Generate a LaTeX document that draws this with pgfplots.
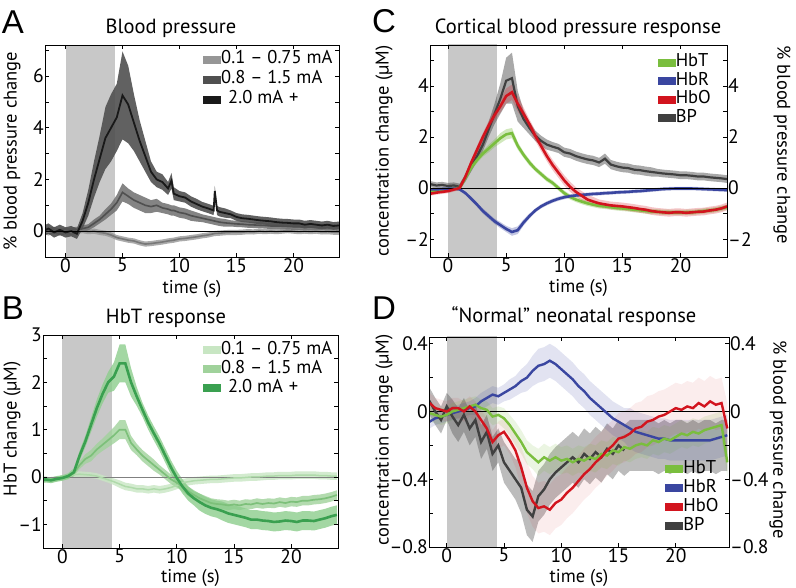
\documentclass[border=0pt]{standalone}
\usepackage{fontspec}
\setmainfont{PT Sans}
\newfontfamily\letterfont{Liberation Sans}
\usepackage{pgfplots}
\pgfplotsset{compat=1.18}
\usepackage{pgfplotstable}
\usepgfplotslibrary{fillbetween}

\definecolor{stim}{RGB}{200,200,200}
\definecolor{gA1}{RGB}{150,150,150}
\definecolor{gA1l}{RGB}{120,120,120}
\definecolor{gA2}{RGB}{110,110,110}
\definecolor{gA2l}{RGB}{80,80,80}
\definecolor{gA3}{RGB}{80,80,80}
\definecolor{gA3l}{RGB}{25,25,25}
\definecolor{gB1}{RGB}{200,230,195}
\definecolor{gB1l}{RGB}{175,218,170}
\definecolor{gB2}{RGB}{160,210,155}
\definecolor{gB2l}{RGB}{125,192,122}
\definecolor{gB3}{RGB}{140,205,140}
\definecolor{gB3l}{RGB}{58,160,80}
\definecolor{cT}{RGB}{122,190,62}
\definecolor{cR}{RGB}{58,70,160}
\definecolor{cO}{RGB}{210,20,30}
\definecolor{cB}{RGB}{64,64,64}

\pgfplotstableread{
t a1 e1 a2 e2 a3 e3
-2 0.02 .12 0.05 .12 0.0 .2
-1.5 -0.05 .12 0.0 .12 0.1 .2
-1 0.03 .12 0.05 .12 -0.05 .2
-0.5 -0.02 .12 -0.05 .12 0.05 .2
0 0.0 .12 0.0 .12 -0.05 .2
0.5 -0.05 .1 0.02 .12 0.0 .2
1 0.0 .1 0.05 .12 -0.1 .2
1.5 0.02 .1 0.1 .12 0.4 .3
2 -0.02 .1 0.15 .12 1.1 .5
2.5 0.0 .1 0.3 .15 2.0 .7
3 -0.05 .1 0.45 .15 2.8 .9
3.5 -0.08 .1 0.65 .2 3.6 1.2
4 -0.15 .1 0.85 .22 4.0 1.3
4.5 -0.25 .1 1.1 .3 4.4 1.3
5 -0.3 .1 1.5 .35 5.25 1.7
5.5 -0.35 .1 1.35 .3 4.9 1.5
6 -0.38 .1 1.2 .3 4.2 1.1
6.5 -0.45 .1 1.1 .3 3.5 .8
7 -0.5 .1 1.0 .3 2.9 .6
7.5 -0.48 .1 0.95 .25 2.3 .4
8 -0.45 .1 1.0 .25 2.0 .3
8.5 -0.42 .1 0.9 .2 1.9 .3
9 -0.38 .1 0.85 .2 1.65 .25
9.3 -0.36 .1 0.8 .2 1.95 .3
9.5 -0.35 .1 0.8 .2 1.45 .25
10 -0.3 .1 0.72 .2 1.35 .2
10.5 -0.28 .1 0.68 .2 1.3 .2
11 -0.25 .1 0.6 .2 1.15 .2
11.5 -0.22 .1 0.55 .18 1.05 .2
12 -0.18 .1 0.5 .15 0.95 .18
12.5 -0.15 .1 0.45 .15 0.88 .18
13 -0.1 .1 0.4 .15 0.8 .18
13.1 -0.09 .1 0.39 .15 1.55 .2
13.3 -0.085 .1 0.37 .15 0.8 .18
13.5 -0.08 .1 0.35 .15 0.75 .18
14 -0.06 .1 0.32 .15 0.7 .18
14.5 -0.05 .1 0.3 .12 0.65 .15
15 -0.05 .1 0.28 .12 0.55 .15
15.5 -0.04 .1 0.27 .12 0.5 .15
16 -0.02 .1 0.25 .12 0.48 .15
16.5 -0.03 .1 0.24 .12 0.45 .15
17 0.0 .1 0.23 .12 0.42 .15
17.5 -0.02 .1 0.22 .12 0.4 .15
18 0.0 .1 0.2 .12 0.38 .15
18.5 -0.02 .1 0.2 .12 0.35 .15
19 0.0 .1 0.19 .12 0.33 .15
19.5 0.02 .1 0.18 .12 0.32 .15
20 0.0 .1 0.17 .12 0.3 .15
20.5 -0.02 .1 0.17 .12 0.3 .15
21 0.0 .1 0.16 .12 0.25 .15
21.5 -0.02 .1 0.15 .12 0.28 .15
22 0.0 .1 0.15 .12 0.25 .15
22.5 -0.03 .1 0.15 .12 0.22 .15
23 -0.02 .1 0.14 .12 0.25 .15
23.5 -0.04 .1 0.14 .12 0.2 .15
24 -0.05 .1 0.13 .12 0.22 .15
}\tabA

\pgfplotstableread{
t b1 e1 b2 e2 b3 e3
-2 -0.05 .05 -0.05 .05 -0.08 .06
-1.5 -0.05 .05 -0.07 .05 -0.05 .06
-1 -0.08 .05 -0.05 .05 -0.07 .06
-0.5 -0.04 .05 -0.04 .05 -0.04 .06
0 -0.02 .05 -0.02 .05 -0.02 .06
0.5 0.0 .05 0.0 .05 0.02 .06
1 0.05 .06 0.08 .06 0.1 .08
1.5 0.06 .06 0.25 .08 0.45 .1
2 0.05 .06 0.38 .1 0.75 .12
2.5 0.04 .06 0.45 .12 1.1 .15
3 0.02 .06 0.58 .12 1.45 .18
3.5 -0.02 .06 0.68 .13 1.75 .2
4 -0.06 .06 0.78 .15 2.0 .22
4.5 -0.1 .07 0.88 .17 2.12 .3
5 -0.15 .08 1.0 .2 2.4 .4
5.5 -0.2 .08 1.0 .2 2.4 .4
6 -0.22 .08 0.72 .15 2.0 .3
6.5 -0.25 .08 0.58 .12 1.7 .2
7 -0.25 .08 0.45 .12 1.42 .15
7.5 -0.27 .08 0.35 .12 1.15 .15
8 -0.25 .08 0.25 .12 0.92 .15
8.5 -0.27 .08 0.15 .1 0.7 .15
9 -0.25 .08 0.05 .1 0.45 .15
9.5 -0.22 .08 -0.05 .1 0.2 .15
10 -0.18 .08 -0.12 .1 -0.02 .15
10.5 -0.12 .08 -0.2 .1 -0.2 .15
11 -0.1 .08 -0.3 .1 -0.35 .15
11.5 -0.08 .08 -0.38 .1 -0.45 .15
12 -0.07 .08 -0.45 .1 -0.53 .18
12.5 -0.06 .08 -0.5 .1 -0.6 .18
13 -0.05 .08 -0.55 .1 -0.65 .18
13.5 -0.05 .08 -0.57 .1 -0.68 .18
14 -0.04 .08 -0.58 .1 -0.72 .2
14.5 -0.03 .08 -0.6 .1 -0.77 .2
15 -0.02 .08 -0.58 .1 -0.8 .2
15.5 -0.02 .08 -0.6 .1 -0.83 .2
16 -0.01 .08 -0.57 .1 -0.86 .2
16.5 0.0 .08 -0.58 .1 -0.9 .2
17 0.0 .08 -0.55 .1 -0.9 .2
17.5 0.01 .08 -0.57 .1 -0.92 .2
18 0.02 .08 -0.55 .1 -0.93 .2
18.5 0.02 .08 -0.56 .1 -0.95 .2
19 0.03 .08 -0.53 .1 -0.94 .2
19.5 0.03 .08 -0.55 .1 -0.92 .2
20 0.03 .08 -0.52 .1 -0.93 .2
20.5 0.04 .08 -0.53 .1 -0.95 .2
21 0.04 .08 -0.5 .1 -0.92 .2
21.5 0.04 .08 -0.5 .1 -0.92 .2
22 0.04 .08 -0.48 .1 -0.93 .2
22.5 0.03 .08 -0.47 .1 -0.9 .2
23 0.03 .08 -0.45 .1 -0.87 .2
23.5 0.02 .08 -0.42 .1 -0.83 .2
24 0.02 .08 -0.38 .1 -0.8 .2
}\tabB

\pgfplotstableread{
t cT eT cR eR cO eO cB eB
-2 -0.1 .08 -0.05 .05 -0.2 .08 0.1 .12
-1.5 -0.1 .08 -0.05 .05 -0.22 .08 0.15 .12
-1 -0.1 .08 -0.05 .05 -0.18 .08 0.1 .12
-0.5 -0.08 .08 -0.04 .05 -0.15 .08 0.12 .12
0 -0.05 .08 -0.03 .05 -0.12 .08 0.08 .12
0.5 -0.02 .08 -0.02 .05 -0.06 .08 0.1 .12
1 0.0 .08 -0.05 .05 0.0 .08 0.05 .12
1.5 0.4 .1 -0.2 .07 0.45 .1 0.4 .15
2 0.8 .1 -0.42 .08 1.0 .12 0.85 .2
2.5 1.1 .12 -0.65 .08 1.5 .15 1.25 .2
3 1.35 .12 -0.9 .1 2.0 .15 1.7 .25
3.5 1.55 .15 -1.1 .1 2.45 .18 2.3 .3
4 1.75 .15 -1.3 .1 2.85 .2 2.9 .4
4.5 1.95 .2 -1.45 .12 3.2 .25 3.5 .6
5 2.1 .2 -1.6 .12 3.6 .3 4.2 .9
5.5 2.15 .2 -1.72 .15 3.75 .3 4.3 1.0
6 1.65 .15 -1.65 .15 3.3 .3 3.2 .6
6.5 1.3 .12 -1.35 .12 2.9 .25 2.7 .35
7 1.0 .12 -1.1 .1 2.5 .2 2.35 .25
7.5 0.75 .1 -0.88 .08 2.05 .2 2.05 .2
8 0.55 .1 -0.72 .08 1.65 .2 1.85 .2
8.5 0.35 .1 -0.6 .08 1.25 .2 1.7 .2
9 0.2 .1 -0.5 .08 0.9 .2 1.62 .18
9.5 0.0 .1 -0.42 .08 0.6 .2 1.55 .18
10 -0.2 .1 -0.36 .08 0.3 .2 1.4 .18
10.5 -0.35 .1 -0.32 .07 0.05 .2 1.35 .18
11 -0.45 .1 -0.29 .07 -0.15 .18 1.25 .18
11.5 -0.53 .1 -0.27 .07 -0.3 .18 1.18 .18
12 -0.6 .1 -0.25 .07 -0.45 .18 1.12 .18
12.5 -0.65 .1 -0.23 .07 -0.53 .18 1.08 .18
13 -0.7 .1 -0.22 .07 -0.6 .15 1.0 .18
13.5 -0.72 .1 -0.2 .07 -0.64 .15 1.15 .2
14 -0.75 .1 -0.19 .07 -0.68 .15 0.92 .18
14.5 -0.78 .1 -0.17 .07 -0.7 .15 0.85 .18
15 -0.8 .1 -0.16 .07 -0.72 .15 0.8 .18
15.5 -0.82 .1 -0.15 .07 -0.75 .15 0.78 .18
16 -0.85 .1 -0.13 .07 -0.78 .15 0.72 .18
16.5 -0.87 .1 -0.12 .07 -0.82 .15 0.7 .18
17 -0.9 .1 -0.1 .07 -0.85 .15 0.66 .18
17.5 -0.92 .1 -0.08 .07 -0.9 .15 0.63 .18
18 -0.93 .1 -0.06 .07 -0.93 .15 0.6 .15
18.5 -0.95 .1 -0.04 .07 -0.95 .15 0.57 .15
19 -0.95 .1 -0.03 .07 -0.97 .15 0.55 .15
19.5 -0.96 .1 -0.02 .07 -0.95 .15 0.53 .15
20 -0.96 .1 -0.02 .07 -0.95 .15 0.5 .15
20.5 -0.95 .1 -0.02 .07 -0.97 .15 0.5 .15
21 -0.95 .1 -0.02 .07 -0.95 .15 0.48 .15
21.5 -0.93 .1 -0.03 .07 -0.93 .15 0.45 .15
22 -0.9 .1 -0.04 .07 -0.92 .15 0.45 .15
22.5 -0.88 .1 -0.05 .07 -0.88 .15 0.42 .15
23 -0.85 .1 -0.06 .07 -0.85 .15 0.4 .15
23.5 -0.8 .1 -0.07 .07 -0.8 .15 0.38 .15
24 -0.75 .1 -0.08 .07 -0.72 .15 0.35 .15
}\tabC

\pgfplotstableread{
t dT eT dR eR dO eO dB eB
-2 0.0 .05 -0.05 .04 0.06 .06 0.05 .08
-1.5 -0.01 .05 -0.06 .04 0.05 .06 0.06 .08
-1 -0.02 .05 -0.04 .04 0.02 .06 0.0 .08
-0.5 -0.03 .05 -0.03 .04 0.01 .06 -0.05 .08
0 -0.02 .05 -0.02 .04 0.0 .06 0.03 .08
0.5 0.0 .05 -0.01 .04 0.02 .06 -0.03 .1
1 0.01 .05 0.0 .04 0.02 .06 -0.08 .1
1.5 0.02 .05 0.01 .04 0.0 .06 -0.02 .1
2 0.03 .05 0.02 .04 0.03 .06 -0.1 .1
2.5 0.04 .05 0.03 .05 0.0 .06 -0.05 .1
3 0.02 .05 0.06 .05 -0.05 .06 -0.18 .1
3.5 0.01 .05 0.08 .05 -0.1 .06 -0.12 .1
4 -0.03 .05 0.1 .05 -0.18 .07 -0.25 .1
4.5 -0.02 .05 0.09 .05 -0.14 .08 -0.2 .1
5 -0.04 .06 0.11 .05 -0.12 .08 -0.3 .12
5.5 -0.08 .06 0.13 .06 -0.17 .08 -0.35 .12
6 -0.13 .07 0.15 .06 -0.23 .1 -0.4 .12
6.5 -0.18 .07 0.18 .07 -0.33 .12 -0.45 .15
7 -0.24 .07 0.2 .08 -0.45 .15 -0.58 .15
7.5 -0.27 .07 0.24 .09 -0.53 .15 -0.62 .15
8 -0.3 .08 0.27 .1 -0.57 .15 -0.5 .15
8.5 -0.27 .08 0.28 .1 -0.56 .15 -0.46 .15
9 -0.29 .08 0.3 .1 -0.58 .15 -0.4 .15
9.5 -0.27 .08 0.28 .1 -0.54 .15 -0.36 .15
10 -0.29 .08 0.25 .1 -0.52 .15 -0.33 .15
10.5 -0.28 .08 0.22 .1 -0.48 .15 -0.3 .15
11 -0.3 .08 0.19 .1 -0.45 .15 -0.27 .15
11.5 -0.28 .08 0.15 .1 -0.41 .15 -0.3 .15
12 -0.29 .08 0.12 .1 -0.37 .15 -0.25 .15
12.5 -0.27 .08 0.08 .1 -0.34 .15 -0.28 .15
13 -0.28 .08 0.05 .1 -0.3 .15 -0.24 .15
13.5 -0.25 .08 0.02 .1 -0.27 .15 -0.27 .15
14 -0.26 .08 -0.01 .1 -0.23 .15 -0.22 .15
14.5 -0.23 .08 -0.04 .1 -0.2 .15 -0.25 .15
15 -0.24 .08 -0.06 .1 -0.16 .15 -0.2 .15
15.5 -0.21 .08 -0.08 .1 -0.15 .15 -0.23 .15
16 -0.22 .08 -0.1 .12 -0.13 .15 -0.2 .15
16.5 -0.2 .08 -0.12 .12 -0.1 .15 -0.2 .15
17 -0.19 .08 -0.13 .12 -0.09 .15 -0.2 .15
17.5 -0.2 .08 -0.14 .12 -0.06 .15 -0.2 .15
18 -0.17 .08 -0.15 .12 -0.05 .15 -0.2 .15
18.5 -0.18 .08 -0.16 .12 -0.03 .15 -0.22 .15
19 -0.16 .08 -0.16 .12 -0.02 .15 -0.2 .15
19.5 -0.17 .08 -0.17 .12 0.0 .15 -0.22 .15
20 -0.15 .08 -0.17 .12 0.02 .15 -0.2 .15
20.5 -0.13 .08 -0.17 .12 0.01 .15 -0.2 .15
21 -0.14 .08 -0.17 .12 0.03 .15 -0.22 .15
21.5 -0.12 .08 -0.17 .12 0.02 .15 -0.2 .15
22 -0.13 .08 -0.17 .12 0.05 .15 -0.22 .15
22.5 -0.11 .08 -0.17 .12 0.03 .15 -0.2 .15
23 -0.1 .08 -0.17 .12 0.06 .15 -0.2 .15
23.5 -0.09 .08 -0.16 .12 0.04 .15 -0.22 .15
24 -0.08 .08 -0.15 .12 0.05 .15 -0.2 .15
24.5 -0.3 .08 -0.14 .12 -0.1 .15 -0.2 .15
}\tabD

\newcommand{\band}[6]{%
  \addplot[name path=#6u, draw=none, forget plot] table[x=t, y expr=\thisrow{#2}+\thisrow{#3}] {#1};
  \addplot[name path=#6l, draw=none, forget plot] table[x=t, y expr=\thisrow{#2}-\thisrow{#3}] {#1};
  \addplot[fill=#4, fill opacity=#5, draw=none, forget plot] fill between[of=#6u and #6l];
}
% stimulus period: x from 0 to #1, name prefix #2
\newcommand{\stimband}[2]{%
  \addplot[name path=#2u, draw=none, forget plot] coordinates {(0,-5) (#1,-5)};
  \addplot[name path=#2l, draw=none, forget plot] coordinates {(0,10) (#1,10)};
  \addplot[fill=stim, draw=none, forget plot] fill between[of=#2u and #2l];
}
\newcommand{\legpatch}[1]{\addlegendimage{legend image code/.code={\fill[#1] (0bp,-3.5bp) rectangle (17bp,3.5bp);}}}

\newcommand{\tfont}{\fontsize{19.5bp}{20bp}\selectfont}
\newcommand{\lfont}{\fontsize{18.5bp}{19bp}\selectfont}

\pgfplotsset{
  panel/.style={
    scale only axis, anchor=south west,
    tick align=inside, major tick length=4bp,
    every tick/.style={black, line width=0.6pt},
    axis line style={line width=0.8pt},
    ticklabel style={font=\tfont, inner sep=1bp},
    /pgf/number format/assume math mode=true,
    label style={font=\lfont, inner sep=0.5bp},
    xtick={0,5,10,15,20},
    xlabel={time (s)},
    axis on top,
    legend cell align=left,
    legend style={draw=none, fill=none, font=\lfont,
      row sep=2bp, inner sep=0bp,
      nodes={inner sep=0.5bp, text height=13bp, text depth=4bp},
      /tikz/every even column/.append style={column sep=3bp}},
  },
  rightax/.style={
    scale only axis, anchor=south west,
    axis x line=none, axis y line*=right,
    tick align=inside, major tick length=4bp,
    every tick/.style={black, line width=0.6pt},
    axis line style={line width=0.8pt},
    ticklabel style={font=\tfont, inner sep=1bp},
    label style={font=\lfont, inner sep=0.5bp},
    ylabel={\% blood pressure change},
  },
}

\begin{document}
\begin{tikzpicture}

% ---------------- Panel A ----------------
\begin{axis}[panel, at={(45bp,331bp)}, width=294bp, height=212bp,
  xmin=-1.8, xmax=24, ymin=-1, ymax=7.2,
  ytick={0,1,2,3,4,5,6,7}, yticklabels={0,,2,,4,,6,},
  ylabel={\% blood pressure change},
  ylabel style={at={(axis description cs:-0.112,0.5)}, anchor=center},
  xlabel style={at={(axis description cs:0.5,-0.15)}, anchor=center},
  legend style={at={(0.98,0.976)}, anchor=north east}]
\stimband{4.3}{sa}
\band{\tabA}{a1}{e1}{gA1}{0.8}{pa1}
\addplot[gA1l, line width=1.6bp, forget plot] table[x=t, y=a1] {\tabA};
\band{\tabA}{a2}{e2}{gA2}{0.85}{pa2}
\addplot[gA2l, line width=1.6bp, forget plot] table[x=t, y=a2] {\tabA};
\band{\tabA}{a3}{e3}{gA3}{0.9}{pa3}
\addplot[gA3l, line width=1.8bp, forget plot] table[x=t, y=a3] {\tabA};
\addplot[black, line width=0.8pt, forget plot] coordinates {(-5,0) (30,0)};
\legpatch{gA1}\addlegendentry{0.1 -- 0.75 mA}
\legpatch{gA2l}\addlegendentry{0.8 -- 1.5 mA}
\legpatch{gA3l}\addlegendentry{\hspace{7bp}2.0 mA\hspace{6bp}+}
\end{axis}

% ---------------- Panel C ----------------
\begin{axis}[panel, at={(430bp,331bp)}, width=297bp, height=212bp,
  xmin=-1.55, xmax=24, ymin=-2.7, ymax=5.6, ytick pos=left,
  ytick={-2,-1,0,1,2,3,4,5}, yticklabels={--2,,0,,2,,4,},
  ylabel={concentration change (µM)},
  ylabel style={at={(axis description cs:-0.155,0.5)}, anchor=center},
  xlabel style={at={(axis description cs:0.5,-0.145)}, anchor=center},
  legend style={at={(0.948,0.962)}, anchor=north east, row sep=0.5bp}]
\stimband{4.2}{sc}
\band{\tabC}{cB}{eB}{cB}{0.45}{pcb}
\band{\tabC}{cT}{eT}{cT}{0.35}{pct}
\band{\tabC}{cR}{eR}{cR}{0.3}{pcr}
\band{\tabC}{cO}{eO}{cO}{0.25}{pco}
\addplot[cB, line width=2.2bp, forget plot] table[x=t, y=cB] {\tabC};
\addplot[cT, line width=2.6bp, forget plot] table[x=t, y=cT] {\tabC};
\addplot[cR, line width=2.6bp, forget plot] table[x=t, y=cR] {\tabC};
\addplot[black, line width=0.8pt, forget plot] coordinates {(-5,0) (30,0)};
\addplot[cO, line width=2.6bp, forget plot] table[x=t, y=cO] {\tabC};
\legpatch{cT}\addlegendentry{HbT}
\legpatch{cR}\addlegendentry{HbR}
\legpatch{cO}\addlegendentry{HbO}
\legpatch{cB}\addlegendentry{BP}
\end{axis}
\begin{axis}[rightax, at={(430bp,331bp)}, width=297bp, height=212bp,
  xmin=-1.55, xmax=24, ymin=-2.7, ymax=5.6,
  ytick={-2,-1,0,1,2,3,4,5}, yticklabels={--2,,0,,2,,4,},
  ylabel style={at={(axis description cs:1.185,0.53)}, anchor=center, rotate=180}]
\addplot[draw=none, forget plot] coordinates {(0,0)};
\end{axis}

% ---------------- Panel B ----------------
\begin{axis}[panel, at={(43bp,40bp)}, width=295bp, height=213bp,
  xmin=-1.7, xmax=24.1, ymin=-1.5, ymax=3,
  ytick={-1,-0.5,0,0.5,1,1.5,2,2.5,3}, yticklabels={--1,,0,,1,,2,,3},
  ylabel={HbT change (µM)},
  ylabel style={at={(axis description cs:-0.105,0.56)}, anchor=center},
  xlabel style={at={(axis description cs:0.5,-0.14)}, anchor=center},
  legend style={at={(0.983,0.972)}, anchor=north east, row sep=1bp}]
\stimband{4.3}{sb}
\addplot[gray, line width=0.8pt, forget plot] coordinates {(-5,0) (30,0)};
\band{\tabB}{b1}{e1}{gB1}{0.8}{pb1}
\addplot[gB1l, line width=1.5bp, forget plot] table[x=t, y=b1] {\tabB};
\band{\tabB}{b2}{e2}{gB2}{0.8}{pb2}
\addplot[gB2l, line width=1.7bp, forget plot] table[x=t, y=b2] {\tabB};
\band{\tabB}{b3}{e3}{gB3}{0.8}{pb3}
\addplot[gB3l, line width=2.6bp, forget plot] table[x=t, y=b3] {\tabB};
\legpatch{gB1}\addlegendentry{0.1 -- 0.75 mA}
\legpatch{gB2}\addlegendentry{0.8 -- 1.5 mA}
\legpatch{gB3l}\addlegendentry{\hspace{7bp}2.0 mA\hspace{6bp}+}
\end{axis}

% ---------------- Panel D ----------------
\begin{axis}[panel, at={(429bp,41bp)}, width=300bp, height=210bp,
  xmin=-1.55, xmax=24.65, ymin=-0.8, ymax=0.44, ytick pos=left,
  ytick={-0.8,-0.6,-0.4,-0.2,0,0.2,0.4}, yticklabels={--0.8,,--0.4,,0,,0.4},
  ylabel={concentration change (µM)},
  ylabel style={at={(axis description cs:-0.15,0.51)}, anchor=center},
  xlabel style={at={(axis description cs:0.5,-0.145)}, anchor=center},
  legend style={at={(0.967,0.057)}, anchor=south east, row sep=1bp}]
\stimband{4.35}{sd}
\band{\tabD}{dB}{eB}{cB}{0.35}{pdb}
\band{\tabD}{dT}{eT}{cT}{0.15}{pdt}
\band{\tabD}{dR}{eR}{cR}{0.15}{pdr}
\band{\tabD}{dO}{eO}{cO}{0.08}{pdo}
\addplot[black, line width=0.8pt, forget plot] coordinates {(-5,0) (30,0)};
\addplot[cR, line width=2.4bp, forget plot] table[x=t, y=dR] {\tabD};
\addplot[cB, line width=2.4bp, forget plot, restrict x to domain=-3:15.5] table[x=t, y=dB] {\tabD};
\addplot[cT, line width=2.4bp, forget plot] table[x=t, y=dT] {\tabD};
\addplot[cO, line width=2.4bp, forget plot] table[x=t, y=dO] {\tabD};
\legpatch{cT}\addlegendentry{HbT}
\legpatch{cR}\addlegendentry{HbR}
\legpatch{cO}\addlegendentry{HbO}
\legpatch{cB}\addlegendentry{BP}
\end{axis}
\begin{axis}[rightax, at={(429bp,41bp)}, width=300bp, height=210bp,
  xmin=-1.55, xmax=24.65, ymin=-0.8, ymax=0.44,
  ytick={-0.8,-0.6,-0.4,-0.2,0,0.2,0.4}, yticklabels={--0.8,,--0.4,,0,,0.4},
  ylabel style={at={(axis description cs:1.163,0.51)}, anchor=center, rotate=180}]
\addplot[draw=none, forget plot] coordinates {(0,0)};
\end{axis}

% titles and panel letters
\node[font=\fontsize{20.5bp}{22bp}\selectfont] at (171bp,560bp) {Blood pressure};
\node[font=\fontsize{20.5bp}{22bp}\selectfont] at (578bp,560bp) {Cortical blood pressure response};
\node[font=\fontsize{20.5bp}{22bp}\selectfont] at (166bp,270bp) {HbT response};
\node[font=\fontsize{20.5bp}{22bp}\selectfont] at (574bp,271bp) {“Normal” neonatal response};
\node[font=\letterfont\fontsize{33bp}{35bp}\selectfont] at (13bp,566bp) {A};
\node[font=\letterfont\fontsize{33bp}{35bp}\selectfont] at (384bp,567bp) {C};
\node[font=\letterfont\fontsize{33bp}{35bp}\selectfont] at (13bp,280bp) {B};
\node[font=\letterfont\fontsize{33bp}{35bp}\selectfont] at (384bp,280bp) {D};
\pgfresetboundingbox
\path[use as bounding box] (0,0) rectangle (796bp,588bp);
\end{tikzpicture}
\end{document}
